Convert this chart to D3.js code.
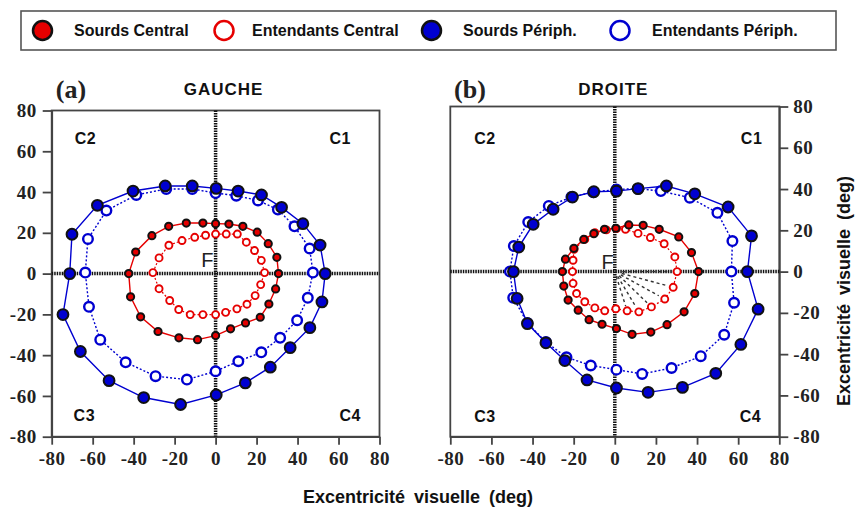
<!DOCTYPE html>
<html><head><meta charset="utf-8">
<script src="https://cdn.jsdelivr.net/npm/d3@7/dist/d3.min.js"></script>
<style>
body{margin:0;background:#fff;}
svg{display:block;}
.sans{font-family:"Liberation Sans",Arial,sans-serif;font-weight:bold;fill:#111;}
.serif{font-family:"Liberation Serif","Times New Roman",serif;font-weight:bold;fill:#222;}
</style>
</head><body>
<svg id="chart" width="856" height="508"></svg>
<script>
// ---------- DATA ----------
const axisTicks = [-80,-60,-40,-20,0,20,40,60,80];
const seriesNames = ["Sourds Central","Entendants Central","Sourds Périph.","Entendants Périph."];
const panelLetters = ["(a)","(b)"];
const panelTitles = ["GAUCHE","DROITE"];
const quadrantLabels = ["C1","C2","C3","C4"];
const xAxisTitle = "Excentricité visuelle (deg)";
const yAxisTitle = "Excentricité visuelle (deg)";

// Panel (a) GAUCHE
const gaucheSourdsPeriph = [[53.5,0],[51,14],[42.6,24.5],[32.2,32.5],[22.4,38.6],[11,40.5],[0.3,41.8],[-11.4,43],[-24.6,43],[-40.3,40.5],[-57.7,33.5],[-70.1,19.3],[-71.2,0],[-74.5,-20.1],[-66,-38.2],[-52,-52.5],[-35.1,-60.8],[-17.1,-64.2],[0.3,-59.5],[14.5,-53.6],[26.7,-45.9],[36.4,-36.3],[46,-26.5],[51.9,-13.9]];
const gaucheEntendantsPeriph = [[47.5,0.5],[45.9,12.3],[38.5,23.2],[30.4,31.4],[20.7,35.9],[10.1,38.2],[0,39.5],[-11.4,41.5],[-24.1,41.5],[-38.7,38.6],[-53.3,30.9],[-62.3,17],[-63.6,0.5],[-61.8,-16.3],[-56.3,-32.4],[-43.9,-43.5],[-29.3,-50.3],[-14,-52],[0,-47.9],[11.1,-43],[22.3,-38.6],[31.5,-31.5],[39.8,-22.9],[45,-11.9]];
const gaucheSourdsCentral = [[30.7,0],[29.9,8],[25.7,14.7],[20.3,20.3],[13.3,23.2],[6.5,24.3],[0,24.5],[-6.2,24.8],[-14.3,24.8],[-22.9,23.2],[-31.1,18.6],[-39,10.6],[-42.4,0],[-41.5,-11.4],[-36.6,-21.2],[-28.1,-28.4],[-17.9,-31.5],[-8.8,-32.4],[0,-30.4],[7.3,-27.1],[14.6,-24.2],[21.8,-21.4],[26,-14.9],[29.3,-7.5]];
const gaucheEntendantsCentral = [[23.9,0.5],[22.3,6.5],[19,11.3],[15,15.4],[10.6,19.4],[5.2,19.4],[0,19.4],[-4.9,18.8],[-10.2,17.8],[-16.4,16.2],[-22.8,13.9],[-27.6,7.7],[-30.6,0.5],[-27.6,-7.4],[-22.4,-13.2],[-18,-17.6],[-12.4,-20.1],[-6.2,-20.1],[0,-20.1],[4.9,-19],[10.4,-17.3],[15.3,-15],[19.3,-10.8],[22,-5.4]];

// Panel (b) DROITE
const droiteSourdsPeriph = [[64.5,0],[66.5,17.3],[55.1,31.3],[38.9,37.7],[25.1,41.5],[11.3,40.2],[0.8,39],[-10.2,38.7],[-20.6,36.1],[-30,30.2],[-39.7,22.9],[-46.7,11.9],[-49.3,0],[-47.5,-13],[-42.5,-25.2],[-33.5,-34.5],[-24.3,-43.1],[-13.5,-52.5],[0.8,-56.4],[16.2,-58.5],[32.9,-56.1],[49.1,-49.3],[61.3,-35.3],[69.7,-18.2]];
const droiteEntendantsPeriph = [[56.7,0],[57.2,14.8],[49.9,28.5],[36.5,35.8],[22.4,39],[11.3,40.2],[0.8,39.8],[-10.5,38.5],[-21.1,36.1],[-32.1,31.8],[-42.1,24],[-49.1,12.4],[-51,0],[-49.4,-12.7],[-42.5,-24.9],[-33.5,-34.1],[-23.5,-41.5],[-11.7,-45.5],[0.8,-47.5],[13.3,-49.6],[27.6,-46.7],[41.8,-41],[53.2,-30.6],[58,-15.1]];
const droiteSourdsCentral = [[40.7,0],[37.3,9.2],[31.1,16.8],[21.6,20.5],[13.8,22.4],[6.8,22.6],[0.5,21],[-5,20.5],[-10.2,18.4],[-15.1,15.6],[-19.9,11.3],[-24,6],[-25.5,0],[-24.8,-7],[-22.7,-13.8],[-17.8,-18.7],[-12.5,-23.3],[-6.2,-25.5],[0.8,-27.6],[8.4,-30.4],[17.5,-29.3],[25.4,-25.7],[33.7,-19.5],[38.9,-10.6]];
const droiteEntendantsCentral = [[30.3,0],[29.2,7.1],[24,13.5],[17.3,16.5],[11.3,18.5],[5.2,20.5],[0.8,20.8],[-4.1,20.2],[-9.7,18.9],[-14.6,15.6],[-19.8,10.8],[-20.3,5.5],[-20.6,0],[-20.3,-5.7],[-18.6,-10.6],[-14.6,-14.6],[-9.7,-17.6],[-4.9,-19],[0.5,-18],[6,-19],[11.7,-19.5],[17.8,-17.1],[24.3,-13.3],[28.4,-7.6]];
// dashed fan lines (panel b) towards these points
const droiteFanTargets = [[30.3,0],[28.4,-7.6],[24.3,-13.3],[17.8,-17.1],[11.7,-19.5],[6,-19]];

// ---------- DRAW ----------
const svg = d3.select("#chart");
const RED = "#e60000", BLUE = "#0000d0";

// legend
const lg = svg.append("g");
lg.append("rect").attr("x",21).attr("y",11).attr("width",815).attr("height",39)
  .attr("fill","#fff").attr("stroke","#555").attr("stroke-width",1.6);
const legendX = [42.5, 224, 431.5, 620];
const legendTextX = [74, 252, 463, 652];
const legendStyles = [
  {fill:RED, stroke:"#111"}, {fill:"#fff", stroke:RED},
  {fill:BLUE, stroke:"#111"}, {fill:"#fff", stroke:BLUE}
];
seriesNames.forEach((n,i)=>{
  lg.append("ellipse").attr("cx",legendX[i]).attr("cy",30.5).attr("rx",9.5).attr("ry",9.5)
    .attr("fill",legendStyles[i].fill).attr("stroke",legendStyles[i].stroke).attr("stroke-width",2.5);
  lg.append("text").attr("class","sans").attr("x",legendTextX[i]).attr("y",36)
    .style("font-size","16px").text(n);
});

const panels = [
  {xr:[51.7,379.5], yr:[436.7,110.5], axisSide:"left",
   series:[gaucheSourdsPeriph,gaucheEntendantsPeriph,gaucheSourdsCentral,gaucheEntendantsCentral],
   letterX:71, titleX:223.5, F:[-7,3.4],
   quad:{C1:[55.6,63.7],C2:[-68.8,63.7],C3:[-69.3,-72.4],C4:[60.5,-72.4]}, fan:null},
  {xr:[450.3,779.3], yr:[436.7,106.5], axisSide:"right",
   series:[droiteSourdsPeriph,droiteEntendantsPeriph,droiteSourdsCentral,droiteEntendantsCentral],
   letterX:470, titleX:613.3, F:[-6.5,1.2],
   quad:{C1:[61.3,61.9],C2:[-68.4,61.9],C3:[-68.4,-72.9],C4:[60.8,-72.9]}, fan:droiteFanTargets}
];

const styles = [
  {line:BLUE, dash:null, fill:BLUE, stroke:"#111", sw:2, r:5.4, lw:1.4},     // Sourds Periph
  {line:BLUE, dash:"2,2", fill:"#fff", stroke:BLUE, sw:2.4, r:4.8, lw:1.4},  // Entendants Periph
  {line:RED, dash:null, fill:RED, stroke:"#111", sw:2, r:3.6, lw:1.4},       // Sourds Central
  {line:RED, dash:"2,2", fill:"#fff", stroke:RED, sw:1.9, r:3.5, lw:1.2}     // Entendants Central
];

panels.forEach((p,pi)=>{
  const x = d3.scaleLinear().domain([-80,80]).range(p.xr);
  const y = d3.scaleLinear().domain([-80,80]).range(p.yr);
  const g = svg.append("g");

  // frame
  g.append("rect").attr("x",x(-80)).attr("y",y(80)).attr("width",x(80)-x(-80)).attr("height",y(-80)-y(80))
    .attr("fill","none").attr("stroke","#444").attr("stroke-width",1.8);

  // x axis
  const xa = g.append("g").attr("transform",`translate(0,${y(-80)})`)
    .call(d3.axisBottom(x).tickValues(axisTicks).tickSize(8).tickSizeOuter(0).tickFormat(d=>String(d)));
  xa.select(".domain").attr("stroke","#444").attr("stroke-width",1.8);
  xa.selectAll(".tick line").attr("stroke","#444").attr("stroke-width",1.8);
  xa.selectAll(".tick text").attr("class","serif").attr("y",28).attr("dy",0)
    .style("font-size","19px").style("letter-spacing","0.5px");

  // y axis
  let ya;
  if(p.axisSide==="left"){
    ya = g.append("g").attr("transform",`translate(${x(-80)},0)`)
      .call(d3.axisLeft(y).tickValues(axisTicks).tickSize(9).tickPadding(6).tickSizeOuter(0).tickFormat(d=>String(d)));
  } else {
    ya = g.append("g").attr("transform",`translate(${x(80)},0)`)
      .call(d3.axisRight(y).tickValues(axisTicks).tickSize(9).tickPadding(5).tickSizeOuter(0).tickFormat(d=>String(d)));
  }
  ya.select(".domain").attr("stroke","#444").attr("stroke-width",1.8);
  ya.selectAll(".tick line").attr("stroke","#444").attr("stroke-width",1.8);
  ya.selectAll(".tick text").attr("class","serif").style("font-size","19px").style("letter-spacing","0.5px");

  // crosshair
  g.append("line").attr("x1",x(-80)).attr("x2",x(80)).attr("y1",y(0)).attr("y2",y(0))
    .attr("stroke","#111").attr("stroke-width",3.5).attr("stroke-dasharray","1.5,1");
  g.append("line").attr("x1",x(0)).attr("x2",x(0)).attr("y1",y(80)).attr("y2",y(-80))
    .attr("stroke","#111").attr("stroke-width",3.5).attr("stroke-dasharray","1.5,1");

  // fan lines
  if(p.fan){
    p.fan.forEach(t=>{
      g.append("line")
        .attr("x1",x(t[0]*0.12)).attr("y1",y(t[1]*0.12))
        .attr("x2",x(t[0]*0.88)).attr("y2",y(t[1]*0.88))
        .attr("stroke","#333").attr("stroke-width",1.4).attr("stroke-dasharray","3,3");
    });
  }

  // series lines
  const line = d3.line().x(d=>x(d[0])).y(d=>y(d[1])).curve(d3.curveLinearClosed);
  [2,3,0,1].forEach(si=>{
    const s = styles[si];
    g.append("path").datum(p.series[si]).attr("d",line).attr("fill","none")
      .attr("stroke",s.line).attr("stroke-width",s.lw).attr("stroke-dasharray",s.dash);
  });
  // markers
  [1,0,3,2].forEach(si=>{
    const s = styles[si];
    g.selectAll(null).data(p.series[si]).enter().append("circle")
      .attr("cx",d=>x(d[0])).attr("cy",d=>y(d[1])).attr("r",s.r)
      .attr("fill",s.fill).attr("stroke",s.stroke).attr("stroke-width",s.sw);
  });

  // labels
  svg.append("text").attr("class","serif").attr("x",p.letterX).attr("y",98).attr("text-anchor","middle")
    .style("font-size","26px").style("fill","#222").text(panelLetters[pi]);
  svg.append("text").attr("class","sans").attr("x",p.titleX).attr("y",94.5).attr("text-anchor","middle")
    .style("font-size","17px").style("letter-spacing","1px").text(panelTitles[pi]);
  quadrantLabels.forEach(c=>{
    const pos = p.quad[c];
    svg.append("text").attr("class","sans").attr("x",x(pos[0])).attr("y",y(pos[1]))
      .style("font-size","16px").style("letter-spacing","0.5px").text(c);
  });
  svg.append("text").attr("x",x(p.F[0])).attr("y",y(p.F[1]))
    .style("font-family","'Liberation Sans',Arial,sans-serif").style("font-size","20px").style("fill","#222").text("F");
});

// axis titles
svg.append("text").attr("class","sans").attr("x",418).attr("y",503).attr("text-anchor","middle")
  .style("font-size","18px").style("word-spacing","4px").text(xAxisTitle);
svg.append("text").attr("class","sans").attr("transform","translate(850,291) rotate(-90)").attr("text-anchor","middle")
  .style("font-size","18px").style("word-spacing","4px").text(yAxisTitle);
</script>
</body></html>
